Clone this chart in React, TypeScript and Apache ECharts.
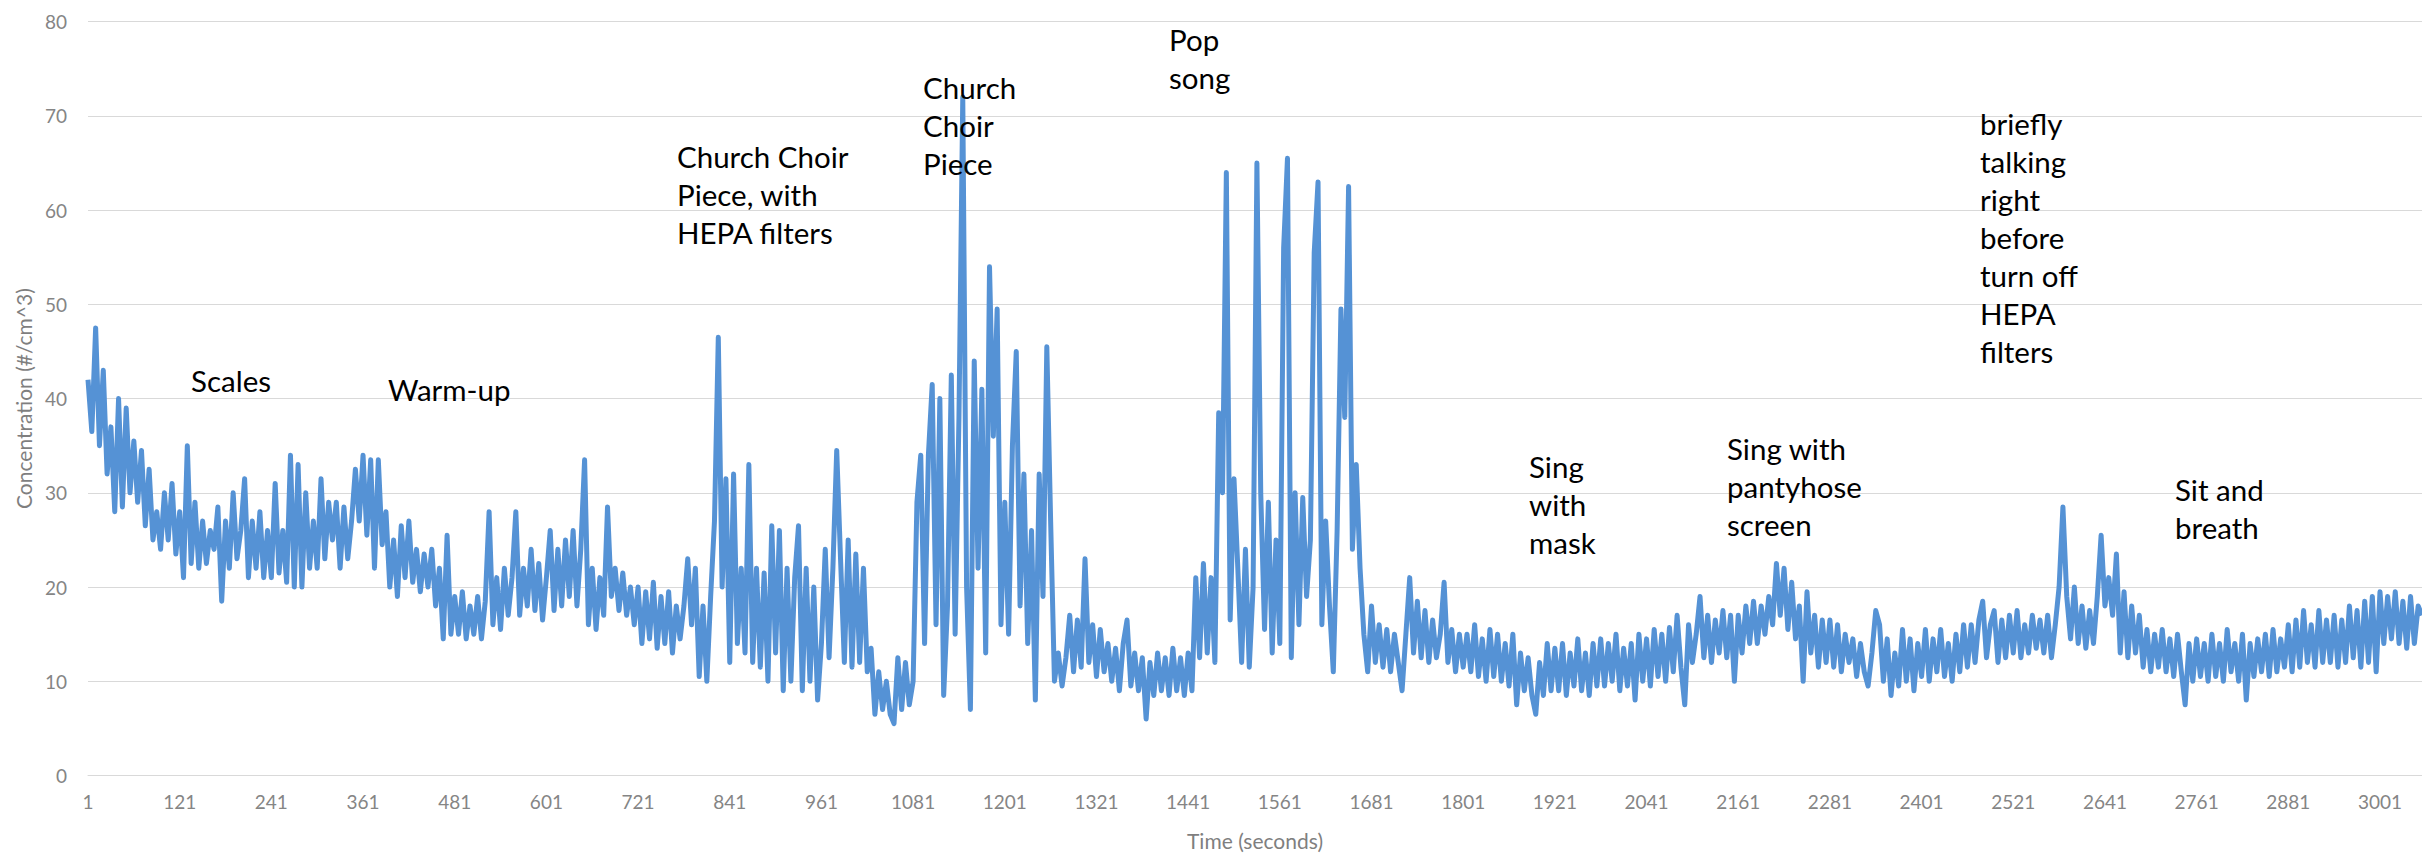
import React, { useEffect, useRef } from "react";
import * as echarts from "echarts";

// Particle concentration (#/cm^3), one reading every 5 seconds starting at t = 1 s
const conc0001to0296 = [
  42, 36.5, 47.5, 35, 43, 32, 37, 28, 40, 28.5, 39, 30,
  35.5, 29, 34.5, 26.5, 32.5, 25, 28, 24, 30, 25, 31, 23.5,
  28, 21, 35, 22.5, 29, 22, 27, 22.5, 26, 24, 28.5, 18.5,
  27, 22, 30, 23, 26, 31.5, 21, 27, 22, 28, 21, 26,
  21, 31, 21.5, 26, 20.5, 34, 20, 33, 20, 30, 22, 27,
];
const conc0301to0596 = [
  22, 31.5, 23, 29, 25, 29, 22, 28.5, 23, 27, 32.5, 27,
  34, 25.5, 33.5, 22, 33.5, 24.5, 28, 20, 25, 19, 26.5, 21,
  27, 20.5, 24, 19.5, 23.5, 20, 24, 18, 22, 14.5, 25.5, 15,
  19, 15, 19.5, 14.5, 18, 15, 19, 14.5, 18.5, 28, 16, 21,
  15.5, 22, 17, 21, 28, 17, 22, 18, 24, 17.5, 22.5, 16.5,
];
const conc0601to0896 = [
  21, 26, 17.5, 24, 18, 25, 19, 26, 18, 24, 33.5, 16,
  22, 15.5, 21, 17, 28.5, 19, 22, 17.5, 21.5, 17, 20, 16,
  20, 14, 19.5, 14.5, 20.5, 13.5, 19, 14, 19.5, 13, 18, 14.5,
  18, 23, 16, 22, 10.5, 18, 10, 19, 27, 46.5, 20, 31.5,
  12, 32, 14, 22, 13, 33, 12, 22, 11.5, 21.5, 10, 26.5,
];
const conc0901to1196 = [
  13, 26, 9, 22, 10, 21, 26.5, 9, 22, 10, 20, 8,
  14, 24, 12.5, 22, 34.5, 23, 12, 25, 11.5, 23.5, 12, 22,
  11, 13.5, 6.5, 11, 7, 10, 6.5, 5.5, 12.5, 7, 12, 7.5,
  10, 29, 34, 14, 34, 41.5, 16, 40, 8.5, 18, 42.5, 15,
  38, 72, 20, 7, 44, 22, 41, 13, 54, 36, 49.5, 16,
];
const conc1201to1496 = [
  29, 15, 35, 45, 18, 32, 14, 26, 8, 32, 19, 45.5,
  27, 10, 13, 9.5, 12.5, 17, 11, 16.5, 11.5, 23, 12, 16,
  10.5, 15.5, 11, 14, 10, 13.5, 9, 14, 16.5, 9.5, 13, 9,
  12.5, 6, 12, 8.5, 13, 9, 12.5, 8.5, 13.5, 9, 12.5, 8.5,
  13, 9, 21, 12.5, 22.5, 13, 21, 12, 38.5, 30, 64, 16.5,
];
const conc1501to1796 = [
  31.5, 22, 12, 24, 11.5, 20, 65, 30, 15.5, 29, 13, 25,
  14, 56, 65.5, 12.5, 30, 16, 29.5, 19, 25, 55.5, 63, 16,
  27, 18, 11, 26, 49.5, 38, 62.5, 24, 33, 22, 15, 11,
  18, 12, 16, 11.5, 15.5, 11, 15, 12, 9, 15, 21, 13,
  18.5, 12.5, 17.5, 12, 16.5, 12.5, 15, 20.5, 12, 15.5, 11, 15,
];
const conc1801to2096 = [
  11.5, 15, 11, 16, 10.5, 14.5, 10, 15.5, 10.5, 15, 10, 14,
  9.5, 15, 7.5, 13, 9, 12.5, 8.5, 6.5, 12, 8.5, 14, 9,
  13.5, 9, 14, 8.5, 13, 9.5, 14.5, 9, 13, 8.5, 14, 9.5,
  14.5, 9.5, 14, 10, 15, 9, 13.5, 9.5, 14, 8, 15, 10,
  14.5, 9.5, 15.5, 10.5, 15, 10, 15.7, 11, 17, 11.5, 7.5, 16,
];
const conc2101to2396 = [
  12, 15, 19, 12.5, 17, 12, 16.5, 13, 17.5, 12.5, 17, 10,
  17, 13, 18, 14, 18.5, 14, 18, 15, 19, 16, 22.5, 17,
  22, 15.5, 20.5, 14.5, 18, 10, 19.5, 13, 17, 11.5, 16.5, 12,
  16.5, 11.5, 16, 11, 15, 12, 14.5, 10.5, 14, 11, 9.5, 13,
  17.5, 16, 10, 14.5, 8.5, 13, 9.5, 15.5, 10, 14.5, 9, 14,
];
const conc2401to2696 = [
  10.5, 15.5, 10, 14.5, 11, 15.5, 10.5, 14, 10, 15, 11, 16,
  11.5, 16, 12, 16.5, 18.5, 12.5, 16, 17.5, 12, 16.5, 12.5, 17,
  13, 17.5, 12.5, 16, 13, 17, 13.5, 16.5, 13, 17, 12.5, 16,
  20, 28.5, 19, 14.5, 20, 14, 18, 13.5, 17.5, 14, 19, 25.5,
  18, 21, 17, 23.5, 13, 19.5, 12.5, 18, 13, 17, 11.5, 15.5,
];
const conc2701to3056 = [
  11, 15, 11.5, 15.5, 11, 14.5, 10.5, 15, 11, 7.5, 14, 10,
  14.5, 10.5, 14, 10, 15, 10.5, 14, 10, 15.5, 11, 14, 10,
  15, 8, 14, 10.5, 14.5, 11, 15, 10.5, 15.5, 11, 14.5, 11.5,
  16, 11, 16.5, 11.5, 17.5, 12, 16, 11.5, 17.5, 12, 16.5, 12,
  17, 11.5, 16.5, 12, 18, 12.5, 17.5, 11.5, 18.5, 12, 19, 11,
  19.5, 14, 19, 14.5, 19.5, 14, 18.5, 13.5, 19, 14, 18, 17,
];

const concentration = [
  ...conc0001to0296, ...conc0301to0596, ...conc0601to0896, ...conc0901to1196,
  ...conc1201to1496, ...conc1501to1796, ...conc1801to2096, ...conc2101to2396,
  ...conc2401to2696, ...conc2701to3056,
];
const SAMPLE_STEP = 5;
const timeSeconds = concentration.map((_, i) => String(1 + SAMPLE_STEP * i));

const annotationTexts = [
  "Scales",
  "Warm-up",
  "Church Choir\nPiece, with\nHEPA filters",
  "Church\nChoir\nPiece",
  "Pop\nsong",
  "Sing\nwith\nmask",
  "Sing with\npantyhose\nscreen",
  "briefly\ntalking\nright\nbefore\nturn off\nHEPA\nfilters",
  "Sit and\nbreath",
];

const X_AXIS_NAME = "Time (seconds)";
const Y_AXIS_NAME = "Concentration (#/cm^3)";

export default function App() {
  const ref = useRef<HTMLDivElement>(null);
  useEffect(() => {
    if (!ref.current) return;
    const chart = echarts.init(ref.current, undefined, { renderer: "svg" });
    const annPos: [number, number][] = [
      [191, 361],
      [388, 370],
      [677, 137],
      [923, 68],
      [1169, 20],
      [1529, 447],
      [1727, 429],
      [1980, 104],
      [2175, 470],
    ];
    chart.setOption({
      animation: false,
      backgroundColor: "#ffffff",
      grid: { left: 88, right: 0, top: 21.7, bottom: 81.5, containLabel: false },
      xAxis: {
        type: "category",
        data: timeSeconds,
        boundaryGap: false,
        name: X_AXIS_NAME,
        nameLocation: "middle",
        nameGap: 54,
        nameTextStyle: { fontFamily: "Lato", fontSize: 21, color: "#7f7f7f" },
        axisLine: { show: true, lineStyle: { color: "#d9d9d9", width: 1 } },
        axisTick: { show: false },
        axisLabel: {
          interval: 23,
          margin: 16,
          fontFamily: "Lato",
          fontSize: 19,
          color: "#858585",
        },
        splitLine: { show: false },
      },
      yAxis: {
        type: "value",
        min: 0,
        max: 80,
        interval: 10,
        name: Y_AXIS_NAME,
        nameLocation: "middle",
        nameGap: 50,
        nameTextStyle: { fontFamily: "Lato", fontSize: 21, color: "#7f7f7f" },
        axisLine: { show: false },
        axisTick: { show: false },
        axisLabel: { margin: 21, fontFamily: "Lato", fontSize: 19, color: "#858585" },
        splitLine: { show: true, lineStyle: { color: "#d9d9d9", width: 1 } },
      },
      series: [
        {
          type: "line",
          data: concentration,
          showSymbol: false,
          symbol: "none",
          smooth: false,
          lineStyle: { color: "#5592d5", width: 5, join: "round" },
          z: 3,
        },
      ],
      graphic: annotationTexts.map((t, i) => ({
        type: "text",
        x: annPos[i][0],
        y: annPos[i][1],
        z: 10,
        style: {
          text: t,
          fontFamily: "Lato",
          fontSize: 29.5,
          lineHeight: 38,
          fill: "#000000",
          verticalAlign: "top",
          align: "left",
        },
      })),
    });
    return () => chart.dispose();
  }, []);
  return (
    <div
      ref={ref}
      style={{ position: "fixed", left: 0, top: 0, width: 2422, height: 857, background: "#fff" }}
    />
  );
}
